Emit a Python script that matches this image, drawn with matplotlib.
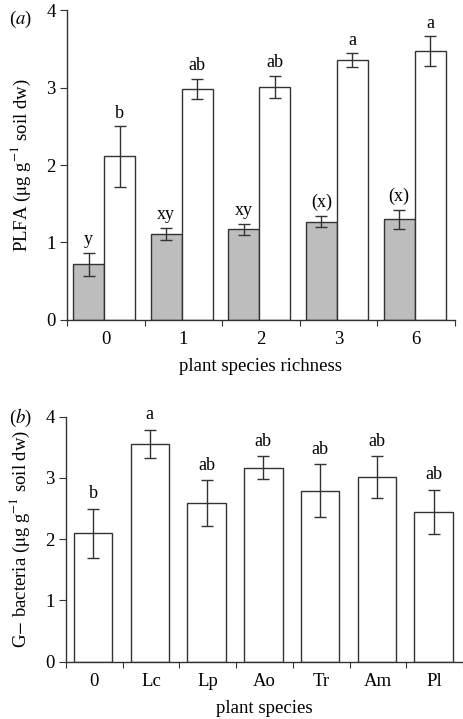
import numpy as np
import matplotlib
matplotlib.use("Agg")
from matplotlib import pyplot as plt

plt.rcParams['font.family'] = ['Liberation Serif', 'DejaVu Serif']
plt.rcParams['mathtext.fontset'] = 'stix'

# panel (a): PLFA by plant species richness
richness = ['0', '1', '2', '3', '6']
grey_vals = [0.72, 1.11, 1.17, 1.27, 1.30]
grey_err = [0.15, 0.08, 0.07, 0.07, 0.12]
grey_lett = ['y', 'xy', 'xy', '(x)', '(x)']
white_vals = [2.11, 2.98, 3.01, 3.35, 3.47]
white_err = [0.39, 0.13, 0.14, 0.09, 0.19]
white_lett = ['b', 'ab', 'ab', 'a', 'a']

# panel (b): G- bacteria by plant species
species = ['0', 'Lc', 'Lp', 'Ao', 'Tr', 'Am', 'Pl']
gneg_vals = [2.10, 3.56, 2.59, 3.17, 2.79, 3.02, 2.45]
gneg_err = [0.40, 0.23, 0.37, 0.18, 0.43, 0.34, 0.36]
gneg_lett = ['b', 'a', 'ab', 'ab', 'ab', 'ab', 'ab']

edge = '#333333'
fs_tick = 13.5
fs_lett = 13

fig = plt.figure(figsize=(4.64, 7.19), dpi=100)

def style(ax, n):
    for s in ['top', 'right']:
        ax.spines[s].set_visible(False)
    for s in ['left', 'bottom']:
        ax.spines[s].set_color(edge)
        ax.spines[s].set_linewidth(1.0)
    ax.set_xlim(0, n)
    ax.set_ylim(0, 4)
    ax.set_yticks([0, 1, 2, 3, 4])
    ax.set_xticks(np.arange(n + 1), minor=False)
    ax.set_xticklabels([])
    ax.set_xticks(np.arange(n) + 0.5, minor=True)
    ax.tick_params(axis='x', which='major', direction='out', length=4, color=edge)
    ax.tick_params(axis='x', which='minor', length=0, labelsize=fs_tick, pad=8)
    ax.tick_params(axis='y', direction='out', length=5, color=edge,
                   labelsize=fs_tick, pad=3)

ekw = dict(ecolor=edge, capsize=4, elinewidth=1.0, capthick=1.0)

# ---- (a)
ax1 = fig.add_axes([0.1444, 0.555, 0.836, 0.431])
x = np.arange(len(richness))
w = 0.4
ax1.bar(x + 0.48 - w / 2, grey_vals, w, color='#bdbdbd', edgecolor=edge, linewidth=1.0,
        yerr=grey_err, error_kw=ekw)
ax1.bar(x + 0.48 + w / 2, white_vals, w, color='white', edgecolor=edge, linewidth=1.0,
        yerr=white_err, error_kw=ekw)
for i in range(len(richness)):
    ax1.text(x[i] + 0.48 - w / 2, grey_vals[i] + grey_err[i] + 0.06, grey_lett[i],
             ha='center', va='bottom', fontsize=fs_lett)
    ax1.text(x[i] + 0.48 + w / 2, white_vals[i] + white_err[i] + 0.06, white_lett[i],
             ha='center', va='bottom', fontsize=fs_lett)
style(ax1, len(richness))
ax1.set_xticklabels(richness, minor=True)
ax1.set_xlabel('plant species richness', fontsize=fs_tick, labelpad=7)
ax1.set_ylabel(r'PLFA ($\mathrm{\mu}$g g$^{-1}$ soil dw)', fontsize=fs_tick, labelpad=10)
fig.text(0.02, 0.988, r'($a$)', fontsize=fs_tick, va='top')

# ---- (b)
ax2 = fig.add_axes([0.142, 0.0797, 0.856, 0.3408])
xb = np.arange(len(species))
wb = 0.68
ax2.bar(xb + 0.48, gneg_vals, wb, color='white', edgecolor=edge, linewidth=1.0,
        yerr=gneg_err, error_kw=ekw)
for i in range(len(species)):
    ax2.text(xb[i] + 0.48, gneg_vals[i] + gneg_err[i] + 0.1, gneg_lett[i],
             ha='center', va='bottom', fontsize=fs_lett)
style(ax2, len(species))
ax2.set_xticklabels(species, minor=True)
ax2.set_xlabel('plant species', fontsize=fs_tick, labelpad=7)
ax2.set_ylabel(r'G$-$ bacteria ($\mathrm{\mu}$g g$^{-1}$ soil dw)', fontsize=fs_tick, labelpad=10)
fig.text(0.02, 0.434, r'($b$)', fontsize=fs_tick, va='top')

fig.savefig('out.png', dpi=100)
